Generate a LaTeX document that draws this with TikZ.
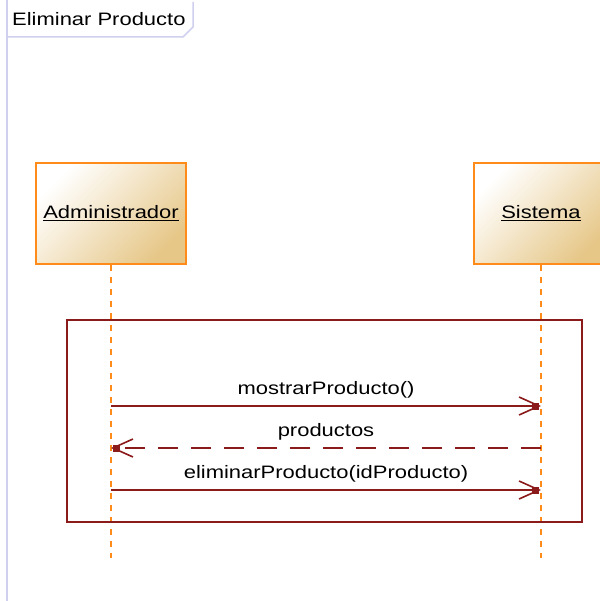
\documentclass[tikz,border=0pt]{standalone}
\usepackage{fontspec}
\setmainfont[FakeStretch=1.22]{Liberation Sans}
\usetikzlibrary{arrows.meta,calc}
\definecolor{lifeorange}{HTML}{FF8C1A}
\definecolor{msgred}{HTML}{8B1A1A}
\definecolor{framelav}{HTML}{D0D0EE}
\definecolor{tanfill}{HTML}{E6C788}
\begin{document}
\begin{tikzpicture}[x=1pt,y=-1pt,
  font=\fontsize{18}{20}\selectfont,
  participant/.style={draw=lifeorange, line width=1.6pt, top color=white, bottom color=tanfill, shading angle=45, minimum height=101pt, inner sep=0pt},
  lifeline/.style={lifeorange, line width=1.6pt, dash pattern=on 6pt off 6pt},
  msgline/.style={msgred, line width=1.3pt, -{Straight Barb[length=20pt,width=18pt,line width=1.6pt]}},
  retline/.style={msgred, line width=1.3pt, dash pattern=on 20pt off 13pt, -{Straight Barb[length=20pt,width=18pt,line width=1.6pt]}},
  msgtext/.style={text=black, inner sep=0pt},
  tipsq/.style={fill=msgred}
]
\useasboundingbox (0,0) rectangle (599,601);
% frame
\draw[framelav, line width=1.5pt] (7,0) -- (7,601);
\draw[framelav, line width=1.5pt] (7,37) -- (183,37) -- (193,27) -- (193,2);
\node[anchor=base west, inner sep=0pt] (title) at (12,26) {Eliminar Producto};
% participants
\node[participant, minimum width=150pt] (admin) at (111,213.5) {\underline{Administrador}};
\node[participant, minimum width=134pt] (sis) at (541,213.5) {\underline{Sistema}};
% lifelines
\coordinate (aend) at (111,558);
\coordinate (send) at (541,558);
\draw[lifeline] (admin.south) -- (aend);
\draw[lifeline] (sis.south) -- (send);
% fragment
\node[draw=msgred, line width=1.3pt, minimum width=515pt, minimum height=202pt, inner sep=0pt] (frag) at (324.5,421) {};
% messages
\coordinate (a1) at (111,406); \coordinate (s1) at (541,406);
\coordinate (a2) at (111,448); \coordinate (s2) at (541,448);
\coordinate (a3) at (111,490); \coordinate (s3) at (541,490);
\draw[msgline] (a1) -- (s1) node[midway, above=7pt, msgtext] {mostrarProducto()};
\draw[retline] (s2) -- (a2) node[midway, above=7pt, msgtext] {productos};
\draw[msgline] (a3) -- (s3) node[midway, above=7pt, msgtext] {eliminarProducto(idProducto)};
\fill[tipsq] ($(s1)+(-9,-3.5)$) rectangle ++(7,7);
\fill[tipsq] ($(a2)+(2,-3.5)$) rectangle ++(7,7);
\fill[tipsq] ($(s3)+(-9,-3.5)$) rectangle ++(7,7);
\end{tikzpicture}
\end{document}
